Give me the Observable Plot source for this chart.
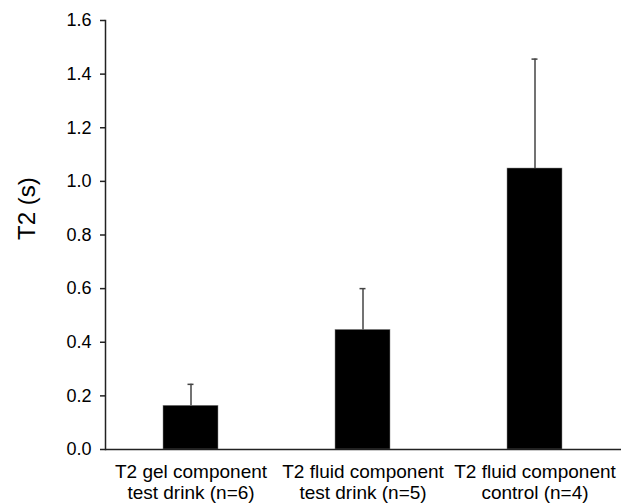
<!DOCTYPE html>
<html>
<head>
<meta charset="utf-8">
<script src="https://cdn.jsdelivr.net/npm/d3@7"></script>
<script src="https://cdn.jsdelivr.net/npm/@observablehq/plot@0.6"></script>
<style>
  html, body { margin: 0; padding: 0; background: #fff; }
  #chart svg { display: block; }
</style>
</head>
<body>
<div id="chart"></div>
<script>
const categories = [
  "T2 gel component\ntest drink (n=6)",
  "T2 fluid component\ntest drink (n=5)",
  "T2 fluid component\ncontrol (n=4)"
];
const means = [0.163, 0.446, 1.048];
const errors = [0.080, 0.154, 0.408];
const yTicks = [0, 0.2, 0.4, 0.6, 0.8, 1.0, 1.2, 1.4, 1.6];
const yTitle = "T2 (s)";

const data = categories.map((c, i) => ({cat: c, mean: means[i], upper: means[i] + errors[i]}));

const chart = Plot.plot({
  width: 621,
  height: 504,
  marginLeft: 105,
  marginRight: 0,
  marginTop: 20,
  marginBottom: 55,
  style: {fontFamily: "'Liberation Sans', Arial, sans-serif", background: "#fff", color: "#000"},
  x: {domain: categories, paddingInner: 0.68, paddingOuter: 0.34},
  y: {domain: [0, 1.6]},
  marks: [
    Plot.barY(data, {x: "cat", y: "mean", fill: "#000", stroke: "#888", strokeWidth: 0.5}),
    Plot.ruleX(data, {x: "cat", y1: "mean", y2: "upper", stroke: "#444", strokeWidth: 1.5}),
    Plot.tickY(data, {x: "cat", y: "upper", stroke: "#444", strokeWidth: 1.5, insetLeft: 24.5, insetRight: 24.5}),
    Plot.axisY({ticks: yTicks, tickFormat: d3.format(".1f"), tickSize: 5, tickPadding: 9,
      fontSize: 18, stroke: "#222", strokeWidth: 1.5, label: null}),
    Plot.axisX({tickSize: 0, tickPadding: 13, fontSize: 19, lineHeight: 1.12, label: null}),
    Plot.text([yTitle], {frameAnchor: "left", rotate: -90, dx: -78, dy: 5, fontSize: 24, fill: "#000"}),
    Plot.frame({anchor: "left", stroke: "#222", strokeWidth: 1.5}),
    Plot.ruleY([0], {stroke: "#222", strokeWidth: 1.5})
  ]
});
document.getElementById("chart").appendChild(chart);
</script>
</body>
</html>
